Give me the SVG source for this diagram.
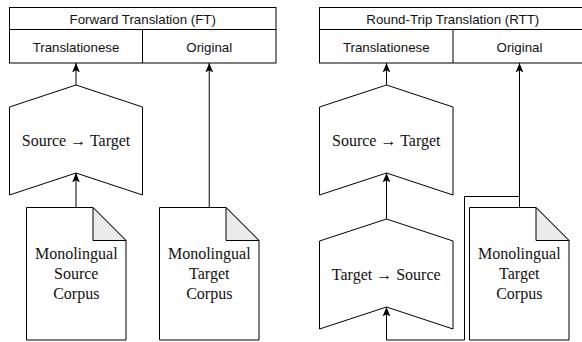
<svg xmlns="http://www.w3.org/2000/svg" width="582" height="342" viewBox="0 0 582 342">
<defs>
<marker id="arr" markerUnits="userSpaceOnUse" markerWidth="10" markerHeight="10" viewBox="0 0 9 8" refX="8.5" refY="4" orient="auto">
<path d="M0,0.5 L8.5,4 L0,7.5 L2,4 z" fill="#000"/>
</marker>
</defs>
<style>
.box{fill:#fff;stroke:#000;stroke-width:1}
.fold{fill:#ebebeb;stroke:#000;stroke-width:1}
.edge{fill:none;stroke:#000;stroke-width:1;marker-end:url(#arr)}
.sans{font-family:"Liberation Sans",Arial,sans-serif;font-size:13.3px;fill:#111;text-anchor:middle}
.serif{font-family:"Liberation Serif","Times New Roman",serif;font-size:16px;fill:#111;text-anchor:middle}
</style>
<rect width="582" height="342" fill="#fff"/>

<g id="ft-table">
<rect class="box" x="9.5" y="7.5" width="266.5" height="55.5"/>
<line x1="9.5" y1="29.5" x2="276" y2="29.5" stroke="#000"/>
<line x1="142.5" y1="29.5" x2="142.5" y2="63" stroke="#000"/>
<text class="sans" x="142.75" y="23.8">Forward Translation (FT)</text>
<text class="sans" x="76" y="51.8">Translationese</text>
<text class="sans" x="209.25" y="51.8">Original</text>
</g>

<g id="ft-step">
<polygon class="box" points="9.5,107 76,85 142.5,107 142.5,195 76,173 9.5,195"/>
<text class="serif" x="76" y="146">Source → Target</text>
</g>

<g id="ft-source-corpus">
<path class="box" d="M26.5,207.5 H93 L126,240.5 V340 H26.5 Z"/>
<path class="fold" d="M93,207.5 V240.5 H126 Z"/>
<text class="serif" x="76.25" y="258.5">Monolingual</text>
<text class="serif" x="76.25" y="278.5">Source</text>
<text class="serif" x="76.25" y="298.5">Corpus</text>
</g>

<g id="ft-target-corpus">
<path class="box" d="M159.5,207.5 H226 L259,240.5 V340 H159.5 Z"/>
<path class="fold" d="M226,207.5 V240.5 H259 Z"/>
<text class="serif" x="209.25" y="258.5">Monolingual</text>
<text class="serif" x="209.25" y="278.5">Target</text>
<text class="serif" x="209.25" y="298.5">Corpus</text>
</g>

<g id="rtt-table">
<rect class="box" x="319.5" y="7.5" width="266.5" height="55.5"/>
<line x1="319.5" y1="29.5" x2="586" y2="29.5" stroke="#000"/>
<line x1="453" y1="29.5" x2="453" y2="63" stroke="#000"/>
<text class="sans" x="452.75" y="23.8">Round-Trip Translation (RTT)</text>
<text class="sans" x="386.25" y="51.8">Translationese</text>
<text class="sans" x="519.5" y="51.8">Original</text>
</g>

<g id="rtt-step1">
<polygon class="box" points="319.5,107 386.5,85 453,107 453,195 386.5,173 319.5,195"/>
<text class="serif" x="386.25" y="146">Source → Target</text>
</g>

<g id="rtt-step2">
<polygon class="box" points="319.5,241 386.5,219 453,241 453,329 386.5,307 319.5,329"/>
<text class="serif" x="386.25" y="280">Target → Source</text>
</g>

<g id="rtt-target-corpus">
<path class="box" d="M469.5,207.5 H536 L569,240.5 V340 H469.5 Z"/>
<path class="fold" d="M536,207.5 V240.5 H569 Z"/>
<text class="serif" x="519.25" y="258.5">Monolingual</text>
<text class="serif" x="519.25" y="278.5">Target</text>
<text class="serif" x="519.25" y="298.5">Corpus</text>
</g>

<g id="connectors">
<line class="edge" x1="76" y1="207.5" x2="76" y2="173"/>
<line class="edge" x1="76" y1="85" x2="76" y2="63"/>
<line class="edge" x1="209.25" y1="207.5" x2="209.25" y2="63"/>
<line class="edge" x1="386.5" y1="85" x2="386.5" y2="63"/>
<line class="edge" x1="386.5" y1="219" x2="386.5" y2="173"/>
<line class="edge" x1="519.5" y1="207.5" x2="519.5" y2="63"/>
<path class="edge" d="M519.5,207.5 V196.5 H464.5 V340 H386.5 V307"/>
</g>
</svg>
